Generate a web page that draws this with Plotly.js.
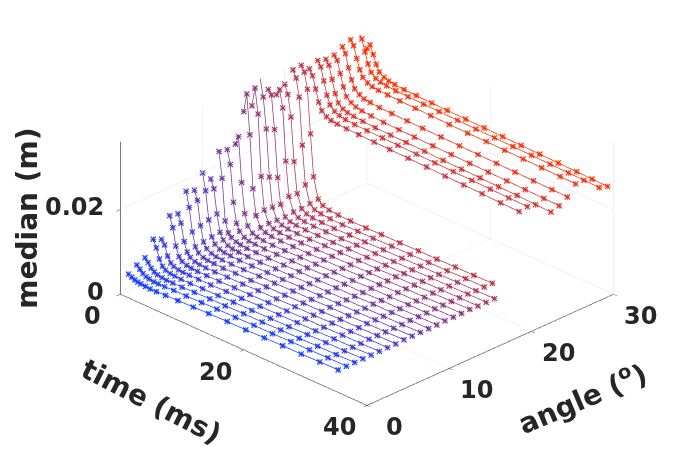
<!DOCTYPE html>
<html>
<head>
<meta charset="utf-8">
<script src="https://cdn.plot.ly/plotly-3.0.1.min.js"></script>
<style>html,body{margin:0;padding:0;background:#fff;}#plot{width:680px;height:454px;}#err{position:absolute;left:0;top:0;font:12px sans-serif;color:red;}</style>
</head>
<body>
<div id="plot"></div>
<div id="err"></div>
<script>
// time samples (ms), shared by all lines; each line uses the first N samples
const time = [0, 0.5, 1, 1.5, 2, 2.75, 3.5, 4.5, 6, 8, 10.5, 13, 16, 19, 22, 25, 28, 31, 34, 36.5, 39];
// angle (degrees) of each line
const angles = [1,2,3,4,5,6,7,8,9,10,11,12,13,14,15,16,17,18,19,20,21,22,23,24,25,26,27,28,29,30];
// median (m) per angle
const med01 = [.0039,.0035,.0032,.0030,.0029,.0028,.0027,.0027,.0028,.0029,.0030,.0031,.0032,.0032,.0033,.0034,.0034,.0035,.0036];
const med02 = [.0052,.0045,.0038,.0034,.0032,.0030,.0030,.0030,.0031,.0031,.0032,.0033,.0033,.0034,.0034,.0035,.0035,.0036,.0036];
const med03 = [.0060,.0052,.0042,.0036,.0033,.0031,.0030,.0030,.0030,.0031,.0032,.0032,.0033,.0033,.0034,.0034,.0035,.0035,.0036];
const med04 = [.0095,.0078,.0055,.0041,.0035,.0032,.0031,.0030,.0030,.0031,.0031,.0032,.0032,.0033,.0033,.0034,.0035,.0035,.0036];
const med05 = [.0086,.0076,.0053,.0040,.0035,.0032,.0031,.0031,.0031,.0031,.0032,.0032,.0033,.0033,.0034,.0034,.0035,.0035,.0036];
const med06 = [.0133,.0108,.0068,.0046,.0038,.0034,.0032,.0031,.0031,.0031,.0032,.0032,.0033,.0033,.0034,.0034,.0035,.0035,.0036];
const med07 = [.0129,.0110,.0070,.0048,.0039,.0034,.0032,.0031,.0031,.0032,.0032,.0033,.0033,.0034,.0034,.0035,.0035,.0036,.0036];
const med08 = [.0173,.0138,.0084,.0052,.0041,.0035,.0033,.0032,.0031,.0032,.0032,.0033,.0033,.0034,.0034,.0035,.0035,.0036,.0036];
const med09 = [.0167,.0146,.0090,.0055,.0042,.0036,.0033,.0032,.0032,.0032,.0033,.0033,.0034,.0034,.0035,.0035,.0036,.0036,.0037];
const med10 = [.0199,.0160,.0095,.0058,.0044,.0037,.0034,.0033,.0032,.0032,.0033,.0033,.0034,.0034,.0035,.0035,.0036,.0036,.0037];
const med11 = [.0176,.0156,.0100,.0060,.0045,.0037,.0034,.0033,.0032,.0032,.0033,.0033,.0034,.0034,.0035,.0035,.0036,.0036,.0037];
const med12 = [.0232,.0172,.0075,.0050,.0042,.0037,.0035,.0033,.0033,.0033,.0033,.0034,.0034,.0035,.0035,.0036,.0036,.0037,.0037];
const med13 = [.0228,.0196,.0110,.0064,.0048,.0039,.0035,.0034,.0033,.0033,.0034,.0034,.0035,.0035,.0035,.0036,.0036,.0037,.0037];
const med14 = [.0232,.0253,.0148,.0078,.0052,.0040,.0036,.0034,.0033,.0033,.0034,.0034,.0035,.0035,.0036,.0036,.0037,.0037,.0038];
const med15 = [.0300,.0345,.0252,.0128,.0068,.0044,.0038,.0035,.0034,.0034,.0034,.0035,.0035,.0036,.0036,.0037,.0037,.0038,.0038];
const med16 = [.0305,.0350,.0292,.0148,.0072,.0045,.0038,.0035,.0034,.0034,.0035,.0035,.0035,.0036,.0036,.0037,.0037,.0038,.0038];
const med17 = [.0361,.0320,.0248,.0138,.0070,.0044,.0038,.0035,.0034,.0034,.0035,.0035,.0036,.0036,.0037,.0037,.0038,.0038,.0039];
const med18 = [.0326,.0316,.0238,.0128,.0068,.0043,.0037,.0035,.0034,.0034,.0034,.0035,.0035,.0036,.0036,.0037,.0037,.0038,.0038];
const med19 = [.0305,.0320,.0280,.0158,.0078,.0046,.0038,.0035,.0034,.0034,.0034,.0035,.0035,.0036,.0036,.0037,.0037,.0038,.0038];
const med20 = [.0321,.0300,.0250,.0148,.0076,.0045,.0038,.0035,.0034,.0033,.0034,.0034,.0035,.0035,.0036,.0036,.0037,.0037,.0038];
const med21 = [.0346,.0330,.0288,.0178,.0088,.0048,.0039,.0036,.0034,.0033,.0034,.0034,.0035,.0035,.0036,.0036,.0037,.0037];
const med22 = [.0348,.0335,.0298,.0196,.0098,.0050,.0040,.0036,.0034,.0033,.0033,.0034,.0034,.0035,.0035,.0036,.0036,.0037];
const med23 = [.0331,.0318,.0290,.0262,.0245,.0236,.0232,.0230,.0229,.0228,.0227,.0226,.0225,.0224,.0222,.0221,.0220,.0218,.0217];
const med24 = [.0342,.0330,.0300,.0270,.0250,.0240,.0235,.0232,.0230,.0229,.0228,.0227,.0226,.0225,.0224,.0223,.0222,.0221,.0220];
const med25 = [.0336,.0325,.0295,.0265,.0246,.0237,.0233,.0231,.0229,.0227,.0226,.0225,.0224,.0222,.0221,.0220,.0219,.0218,.0216,.0215];
const med26 = [.0337,.0328,.0300,.0272,.0252,.0243,.0238,.0235,.0233,.0231,.0230,.0229,.0228,.0227,.0226,.0225,.0224,.0223,.0222,.0221];
const med27 = [.0348,.0335,.0305,.0280,.0262,.0253,.0248,.0246,.0244,.0243,.0242,.0241,.0240,.0239,.0238,.0237,.0236,.0235,.0234,.0233];
const med28 = [.0356,.0345,.0318,.0295,.0280,.0272,.0268,.0266,.0265,.0264,.0263,.0262,.0261,.0260,.0260,.0259,.0258,.0257,.0256,.0255];
const med29 = [.0364,.0352,.0325,.0300,.0283,.0274,.0270,.0268,.0266,.0265,.0264,.0263,.0262,.0261,.0260,.0259,.0258,.0257,.0256,.0255,.0254];
const med30 = [.0318,.0330,.0310,.0290,.0275,.0268,.0264,.0262,.0260,.0259,.0258,.0257,.0256,.0255,.0254,.0253,.0252,.0251,.0250,.0249,.0248];

const series = [med01,med02,med03,med04,med05,med06,med07,med08,med09,med10,
                med11,med12,med13,med14,med15,med16,med17,med18,med19,med20,
                med21,med22,med23,med24,med25,med26,med27,med28,med29,med30];

const timeTicks = [0, 20, 40];
const angleTicks = [0, 10, 20, 30];
const medianTicks = [0, 0.02];
const medianTickText = ['0', '0.02'];
const timeRange = [0, 40];
const angleRange = [0, 30];
const medianRange = [0, 0.036];

function lineColor(i, n) {
  const f = i / (n - 1);
  const r = Math.round(20 + 235 * f);
  const g = Math.round(60 - 12 * f);
  const b = Math.round(255 * (1 - f));
  return 'rgb(' + r + ',' + g + ',' + b + ')';
}

const traces = [];
series.forEach(function (vals, i) {
  const c = lineColor(i, series.length);
  const xs = time.slice(0, vals.length);
  const ys = vals.map(function () { return angles[i]; });
  traces.push({
    type: 'scatter3d', mode: 'lines+markers',
    x: xs, y: ys, z: vals,
    line: {color: c, width: 1.5},
    marker: {color: c, size: 3.2, symbol: 'cross'},
    hoverinfo: 'skip', showlegend: false
  });
  traces.push({
    type: 'scatter3d', mode: 'markers',
    x: xs, y: ys, z: vals,
    marker: {color: c, size: 1.3, symbol: 'x'},
    hoverinfo: 'skip', showlegend: false
  });
});

const ink = '#262626';
const tickFont = {family: 'DejaVu Sans', size: 24, color: ink, weight: 'bold'};
const titleFont = {family: 'DejaVu Sans', size: 28, color: ink, weight: 'bold'};

function axis(range, ticks) {
  return {
    title: {text: ''},
    range: range,
    tickvals: ticks,
    showticklabels: false,
    showgrid: true,
    gridcolor: '#e3e3e3',
    gridwidth: 1,
    showline: true,
    linecolor: ink,
    linewidth: 1.5,
    ticks: 'outside',
    ticklen: 5,
    tickcolor: ink,
    zeroline: false,
    showbackground: false,
    showspikes: false
  };
}

const annotations = [];
timeTicks.forEach(function (t) {
  annotations.push({x: t, y: angleRange[0], z: medianRange[0], text: String(t), showarrow: false,
    xanchor: 'center', yanchor: 'middle', xshift: -28, yshift: -22, font: tickFont});
});
angleTicks.forEach(function (a) {
  annotations.push({x: timeRange[1], y: a, z: medianRange[0], text: String(a), showarrow: false,
    xanchor: 'center', yanchor: 'middle', xshift: 27, yshift: -22, font: tickFont});
});
medianTicks.forEach(function (m, k) {
  annotations.push({x: timeRange[0], y: angleRange[0], z: m, text: medianTickText[k], showarrow: false,
    xanchor: 'right', yanchor: 'middle', xshift: -15, yshift: 2, font: tickFont});
});
annotations.push({x: 20, y: angleRange[0], z: medianRange[0], text: 'time (ms)', showarrow: false,
  xanchor: 'center', yanchor: 'middle', xshift: -93, yshift: -52, textangle: 27, font: titleFont});
annotations.push({x: timeRange[1], y: 15, z: medianRange[0], text: 'angle (<sup>o</sup>)', showarrow: false,
  xanchor: 'center', yanchor: 'middle', xshift: 92, yshift: -48, textangle: -23, font: titleFont});
annotations.push({x: timeRange[0], y: angleRange[0], z: 0.018, text: 'median (m)', showarrow: false,
  xanchor: 'center', yanchor: 'middle', xshift: -93, yshift: 0, textangle: -90, font: titleFont});

const layout = {
  width: 680,
  height: 454,
  margin: {l: 0, r: 0, t: 0, b: 0},
  paper_bgcolor: '#ffffff',
  showlegend: false,
  scene: {
    domain: {x: [0.08, 1.0], y: [0.04, 1.0]},
    xaxis: axis(timeRange, timeTicks),
    yaxis: axis(angleRange, angleTicks),
    zaxis: axis(medianRange, medianTicks),
    aspectmode: 'manual',
    aspectratio: {x: 1.6, y: 1.6, z: 0.784},
    camera: {
      projection: {type: 'orthographic'},
      eye: {x: 1.26, y: -1.26, z: 0.9},
      center: {x: 0, y: 0, z: 0},
      up: {x: 0, y: 0, z: 1}
    },
    annotations: annotations
  }
};

try {
  Plotly.newPlot('plot', traces, layout, {displayModeBar: false})
    .catch(function (e) { document.getElementById('err').textContent = 'promise err: ' + e; });
} catch (e) {
  document.getElementById('err').textContent = 'err: ' + e;
}
</script>
</body>
</html>
